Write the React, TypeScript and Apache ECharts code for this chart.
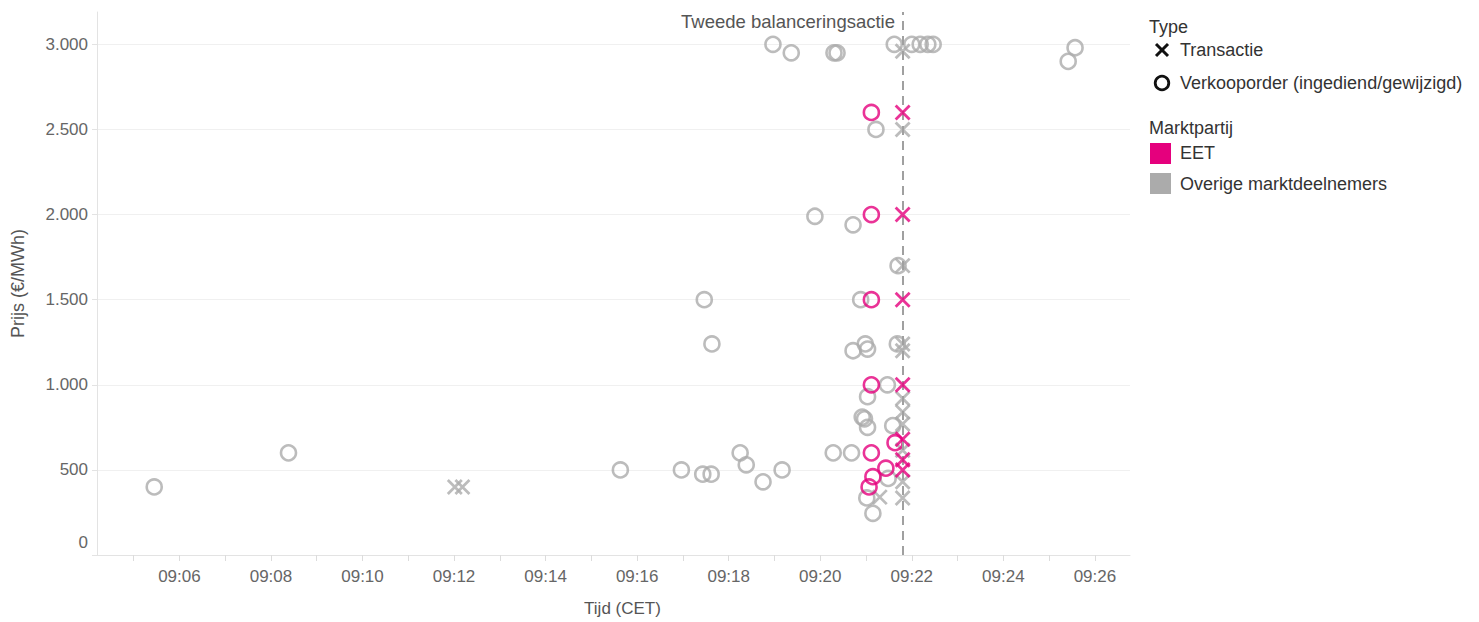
import React, { useEffect, useRef } from "react";
import * as echarts from "echarts";

// ---- Data ----
const xTickTimes = ["09:05","09:06","09:07","09:08","09:09","09:10","09:11","09:12","09:13","09:14","09:15","09:16","09:17","09:18","09:19","09:20","09:21","09:22","09:23","09:24","09:25","09:26"];
const xLabelTimes = ["09:06","09:08","09:10","09:12","09:14","09:16","09:18","09:20","09:22","09:24","09:26"];
const yTickValues = [0, 500, 1000, 1500, 2000, 2500, 3000];
const xRange = ["09:04:12", "09:26:46"];
const yMax = 3190;

const balanceringsTijd = "09:21:48";
const balanceringsLabel = "Tweede balanceringsactie";

// Verkooporders – overige marktdeelnemers
const overigeOrderTijd = [
  "09:05:27","09:08:23","09:15:38","09:16:58","09:17:26","09:17:37","09:18:15","09:18:23","09:18:45","09:19:10",
  "09:20:17","09:20:41","09:17:28","09:17:38","09:18:58","09:19:22","09:20:18","09:20:22","09:19:53","09:20:43",
  "09:20:53","09:20:43","09:20:59","09:21:02","09:21:37","09:22:00","09:22:11","09:22:21","09:22:28","09:25:25",
  "09:25:34","09:21:13","09:21:42","09:21:41","09:21:28","09:21:02","09:20:55","09:20:58","09:21:02","09:21:35",
  "09:21:29","09:21:01","09:21:09"
];
const overigeOrderPrijs = [
  400,600,500,500,475,475,600,530,430,500,
  600,600,1500,1240,3000,2950,2950,2950,1990,1940,
  1500,1200,1240,1210,3000,3000,3000,3000,3000,2900,
  2980,2500,1700,1240,1000,930,810,800,750,760,
  450,335,245
];

// Verkooporders – EET
const eetOrderTijd = ["09:21:07","09:21:07","09:21:07","09:21:07","09:21:07","09:21:38","09:21:26","09:21:09","09:21:04"];
const eetOrderPrijs = [2600, 2000, 1500, 1000, 600, 660, 510, 460, 400];

// Transacties – overige marktdeelnemers
const overigeTransactieTijd = [
  "09:12:01","09:12:11","09:21:18",
  "09:21:48","09:21:48","09:21:48","09:21:48","09:21:48","09:21:48","09:21:48","09:21:48","09:21:48","09:21:48","09:21:48"
];
const overigeTransactiePrijs = [400, 400, 340, 2960, 2500, 1700, 1240, 1200, 920, 840, 770, 615, 430, 335];

// Transacties – EET
const eetTransactieTijd = ["09:21:48","09:21:48","09:21:48","09:21:48","09:21:48","09:21:48","09:21:48"];
const eetTransactiePrijs = [2600, 2000, 1500, 1000, 680, 560, 500];

// ---- Helpers ----
const toMin = (s: string) => {
  const p = s.split(":").map(Number);
  return p[0] * 60 + p[1] + (p[2] || 0) / 60;
};
const pad = (n: number) => String(n).padStart(2, "0");
const fmtTime = (v: number) => {
  const m = Math.round(v);
  return `${pad(Math.floor(m / 60))}:${pad(m % 60)}`;
};
const fmtNum = (v: number) =>
  v >= 1000 ? `${Math.floor(v / 1000)}.${String(v % 1000).padStart(3, "0")}` : String(v);
const pairs = (t: string[], p: number[]) => t.map((s, i) => [toMin(s), p[i]]);

const PINK = "#e5007d";
const GREY = "#ababab";
const FONT = "'Liberation Sans', Arial, sans-serif";
const XPATH = "path://M0,0L10,10M10,0L0,10";

export default function App() {
  const ref = useRef<HTMLDivElement>(null);
  useEffect(() => {
    if (!ref.current) return;
    const chart = echarts.init(ref.current, undefined, { renderer: "svg" });
    const circleStyle = (c: string) => ({ color: "rgba(0,0,0,0)", borderColor: c, borderWidth: 2.6 });
    const crossStyle = (c: string) => ({ color: "rgba(0,0,0,0)", borderColor: c, borderWidth: 2.8 });
    const legendX = 1149;
    const legendText = (text: string, x: number, y: number) => ({
      type: "text",
      x,
      y,
      style: { text, fill: "#333", font: `18px ${FONT}`, verticalAlign: "middle" },
    });

    chart.setOption({
      animation: false,
      textStyle: { fontFamily: FONT },
      grid: { left: 97, right: 349, top: 12, bottom: 61, containLabel: false },
      xAxis: {
        type: "value",
        min: toMin(xRange[0]),
        max: toMin(xRange[1]),
        name: "Tijd (CET)",
        nameLocation: "middle",
        nameGap: 45,
        nameTextStyle: { color: "#555", fontSize: 17, fontFamily: FONT, padding: [0, 0, 0, 18] },
        axisLine: { show: true, lineStyle: { color: "#e3e3e3", width: 1 } },
        axisTick: { show: true, length: 6, lineStyle: { color: "#dcdcdc" }, customValues: xTickTimes.map(toMin) },
        axisLabel: {
          color: "#666",
          fontSize: 17,
          fontFamily: FONT,
          margin: 13,
          customValues: xLabelTimes.map(toMin),
          formatter: (v: number) => fmtTime(v),
        },
        splitLine: { show: false },
      },
      yAxis: {
        type: "value",
        min: 0,
        max: yMax,
        name: "Prijs (€/MWh)",
        nameLocation: "middle",
        nameGap: 70,
        nameTextStyle: { color: "#555", fontSize: 18, fontFamily: FONT },
        axisLine: { show: true, lineStyle: { color: "#e3e3e3", width: 1 } },
        axisTick: { show: true, length: 5, lineStyle: { color: "#e3e3e3" }, customValues: yTickValues },
        axisLabel: {
          color: "#666",
          fontSize: 17,
          fontFamily: FONT,
          margin: 9,
          customValues: yTickValues,
          formatter: (v: number) => (v === 0 ? "{z|0}" : fmtNum(v)),
          rich: { z: { color: "#666", fontSize: 17, fontFamily: FONT, padding: [0, 0, 26, 0] } },
        },
        splitLine: { show: true, lineStyle: { color: "#f0f0f0", width: 1 } },
      },
      legend: { show: false },
      series: [
        {
          name: "Overige orders",
          type: "scatter",
          symbol: "circle",
          symbolSize: 15,
          itemStyle: circleStyle(GREY),
          data: pairs(overigeOrderTijd, overigeOrderPrijs),
          z: 2,
          markLine: {
            silent: true,
            symbol: ["none", "none"],
            label: { show: false },
            lineStyle: { color: "#a0a0a0", type: [9, 6], width: 2 },
            data: [{ xAxis: toMin(balanceringsTijd) }],
          },
        },
        {
          name: "Overige transacties",
          type: "scatter",
          symbol: XPATH,
          symbolSize: 14,
          itemStyle: crossStyle(GREY),
          data: pairs(overigeTransactieTijd, overigeTransactiePrijs),
          z: 3,
        },
        {
          name: "EET orders",
          type: "scatter",
          symbol: "circle",
          symbolSize: 15,
          itemStyle: circleStyle(PINK),
          data: pairs(eetOrderTijd, eetOrderPrijs),
          z: 4,
        },
        {
          name: "EET transacties",
          type: "scatter",
          symbol: XPATH,
          symbolSize: 14,
          itemStyle: crossStyle(PINK),
          data: pairs(eetTransactieTijd, eetTransactiePrijs),
          z: 5,
        },
      ],
      graphic: [
        {
          type: "text",
          x: 895,
          y: 21,
          style: { text: balanceringsLabel, fill: "#555", font: `18.5px ${FONT}`, align: "right", verticalAlign: "middle" },
        },
        legendText("Type", legendX, 27),
        { type: "line", shape: { x1: 1156, y1: 44, x2: 1168, y2: 56 }, style: { stroke: "#111", lineWidth: 3 } },
        { type: "line", shape: { x1: 1168, y1: 44, x2: 1156, y2: 56 }, style: { stroke: "#111", lineWidth: 3 } },
        legendText("Transactie", 1180, 50),
        { type: "circle", shape: { cx: 1162, cy: 83, r: 6.8 }, style: { fill: "none", stroke: "#111", lineWidth: 2.8 } },
        legendText("Verkooporder (ingediend/gewijzigd)", 1180, 83),
        legendText("Marktpartij", legendX, 128),
        { type: "rect", shape: { x: 1150, y: 143, width: 21, height: 21 }, style: { fill: PINK } },
        legendText("EET", 1180, 153),
        { type: "rect", shape: { x: 1150, y: 173, width: 21, height: 21 }, style: { fill: GREY } },
        legendText("Overige marktdeelnemers", 1180, 184),
      ],
    });
    return () => chart.dispose();
  }, []);
  return (
    <div
      ref={ref}
      style={{ position: "absolute", left: 0, top: 0, width: 1479, height: 622, background: "#fff" }}
    />
  );
}
